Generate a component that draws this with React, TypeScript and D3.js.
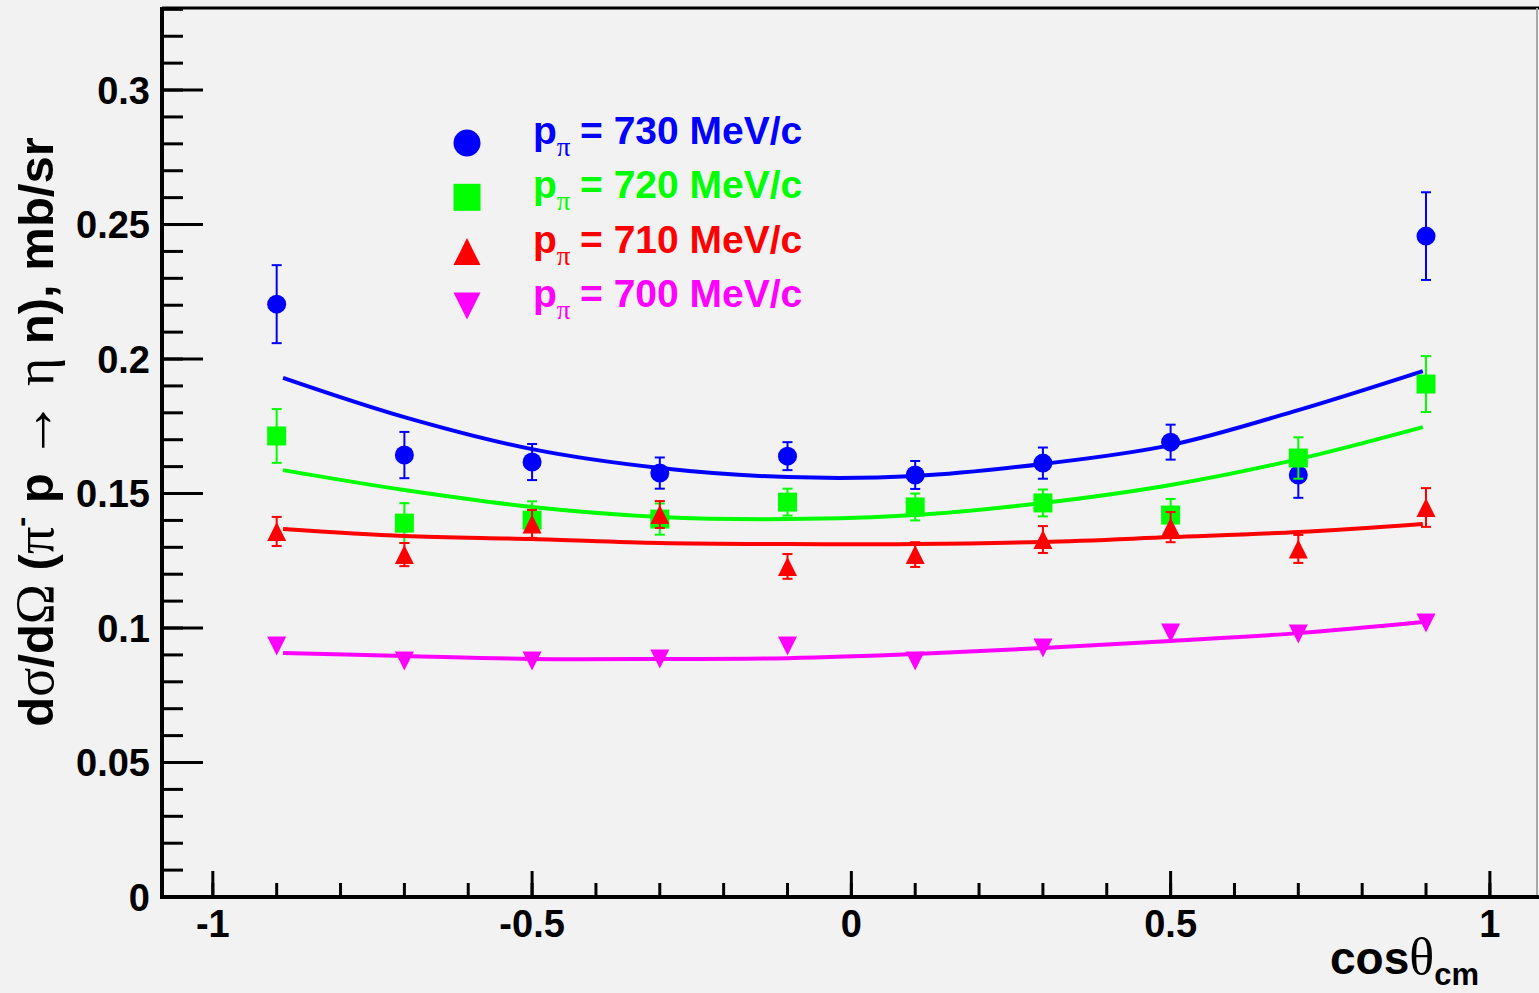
import React from 'react';
import * as d3 from 'd3';

// cos(theta_cm) bin centres
const COS_BINS = [-0.9, -0.7, -0.5, -0.3, -0.1, 0.1, 0.3, 0.5, 0.7, 0.9];

// measured dsigma/dOmega (mb/sr) and errors, one pair per beam momentum
const DS_730 = [0.2204, 0.1643, 0.1617, 0.1576, 0.1639, 0.1569, 0.1613, 0.1691, 0.1569, 0.2457];
const ERR_730 = [0.0145, 0.0086, 0.0067, 0.0058, 0.0052, 0.0052, 0.0058, 0.0065, 0.0085, 0.0163];
const DS_720 = [0.1714, 0.139, 0.1401, 0.1405, 0.1468, 0.145, 0.1465, 0.142, 0.1632, 0.1907];
const ERR_720 = [0.01, 0.0074, 0.007, 0.0058, 0.005, 0.005, 0.005, 0.006, 0.0077, 0.0104];
const DS_710 = [0.1359, 0.1273, 0.1387, 0.1422, 0.1229, 0.1273, 0.1329, 0.1375, 0.1294, 0.1448];
const ERR_710 = [0.0054, 0.0043, 0.0052, 0.005, 0.0046, 0.0046, 0.005, 0.0056, 0.0052, 0.0072];
const DS_700 = [0.0933, 0.0877, 0.0877, 0.0885, 0.0933, 0.0877, 0.0926, 0.0981, 0.0978, 0.1019];
const ERR_700 = [0.0025, 0.0025, 0.0025, 0.0025, 0.0025, 0.0025, 0.0025, 0.0025, 0.0025, 0.0028];

// fit curves
const FIT_X = [-0.89, -0.7, -0.5, -0.3, -0.1, 0.1, 0.3, 0.5, 0.7, 0.895];
const FIT_730 = [0.193, 0.1784, 0.1665, 0.1595, 0.1561, 0.1565, 0.161, 0.168, 0.181, 0.1955];
const FIT_720 = [0.1587, 0.1513, 0.145, 0.1413, 0.1405, 0.142, 0.1465, 0.1532, 0.1628, 0.1747];
const FIT_710 = [0.1368, 0.1342, 0.1331, 0.1316, 0.1312, 0.1312, 0.132, 0.1338, 0.1357, 0.1387];
const FIT_700 = [0.0907, 0.0896, 0.0885, 0.0885, 0.0888, 0.0903, 0.0926, 0.0952, 0.0981, 0.1022];

const MOMENTA = ['730', '720', '710', '700'];
const COLORS = ['#0000ff', '#00ff00', '#ff0000', '#ff00ff'];
const SHAPES = ['circle', 'square', 'tri', 'itri'];

const X_TICKS = [-1, -0.5, 0, 0.5, 1];
const X_TICK_LABELS = ['-1', '-0.5', '0', '0.5', '1'];
const Y_TICKS = [0, 0.05, 0.1, 0.15, 0.2, 0.25, 0.3];
const Y_TICK_LABELS = ['0', '0.05', '0.1', '0.15', '0.2', '0.25', '0.3'];

const W = 1539, H = 993;
const SANS = 'Liberation Sans, Arial, Helvetica, sans-serif';
const SERIF = 'Liberation Serif, DejaVu Serif, serif';

const x = d3.scaleLinear().domain([-1.0796, 1.0738]).range([162, 1537]);
const y = d3.scaleLinear().domain([0, 0.3305]).range([897, 8]);

function Marker({ shape, cx, cy, s, color }) {
  const h = s / 2;
  if (shape === 'circle') return <circle cx={cx} cy={cy} r={h} fill={color} />;
  if (shape === 'square') return <rect x={cx - h} y={cy - h} width={s} height={s} fill={color} />;
  if (shape === 'tri')
    return <path d={`M${cx - h},${cy + h}L${cx + h},${cy + h}L${cx},${cy - h}Z`} fill={color} />;
  return <path d={`M${cx - h},${cy - h}L${cx + h},${cy - h}L${cx},${cy + h}Z`} fill={color} />;
}

export default function App() {
  const series = [
    { ds: DS_730, err: ERR_730, fit: FIT_730 },
    { ds: DS_720, err: ERR_720, fit: FIT_720 },
    { ds: DS_710, err: ERR_710, fit: FIT_710 },
    { ds: DS_700, err: ERR_700, fit: FIT_700 },
  ];
  const line = d3.line<number>()
    .x((_, i) => x(FIT_X[i]))
    .y(d => y(d))
    .curve(d3.curveCatmullRom.alpha(0.5));

  const xMinor = d3.range(-10, 11).map(i => i / 10);
  const yMinor = d3.range(0, 34).map(i => i / 100);
  const ms = 19; // marker size px
  const half = ms / 2;

  return (
    <svg width={W} height={H} style={{ position: 'absolute', left: 0, top: 0 }}>
      <rect width={W} height={H} fill="#f2f2f2" />

      {/* frame */}
      <line x1={162} x2={1539} y1={8} y2={8} stroke="#000" strokeWidth={3} />
      <line x1={1537} x2={1537} y1={8} y2={897} stroke="#a8a8a8" strokeWidth={2} />

      {/* y ticks */}
      {yMinor.map(v => (
        <line key={'ym' + v} x1={162} x2={183} y1={y(v)} y2={y(v)} stroke="#000" strokeWidth={3} />
      ))}
      {Y_TICKS.map((v, i) => (
        <g key={'yt' + v}>
          <line x1={162} x2={203} y1={y(v)} y2={y(v)} stroke="#000" strokeWidth={3} />
          <text x={150} y={y(v)} dy="0.36em" textAnchor="end" fontFamily={SANS} fontWeight="bold" fontSize={38}>
            {Y_TICK_LABELS[i]}
          </text>
        </g>
      ))}

      {/* x ticks */}
      {xMinor.map(v => (
        <line key={'xm' + v} x1={x(v)} x2={x(v)} y1={897} y2={883} stroke="#000" strokeWidth={3} />
      ))}
      {X_TICKS.map((v, i) => (
        <g key={'xt' + v}>
          <line x1={x(v)} x2={x(v)} y1={897} y2={871} stroke="#000" strokeWidth={3} />
          <text x={x(v)} y={937} textAnchor="middle" fontFamily={SANS} fontWeight="bold" fontSize={38}>
            {X_TICK_LABELS[i]}
          </text>
        </g>
      ))}

      {/* axes */}
      <line x1={162} x2={162} y1={7} y2={898.5} stroke="#000" strokeWidth={4} />
      <line x1={160} x2={1539} y1={897} y2={897} stroke="#000" strokeWidth={4} />

      {/* data + fits */}
      {series.map((s, si) => (
        <g key={'s' + si}>
          {s.ds.map((v, i) => {
            const cx = x(COS_BINS[i]);
            const cy = y(v);
            const e = y(v - s.err[i]) - cy;
            if (e <= half) return null;
            return (
              <g key={'e' + i} stroke={COLORS[si]} strokeWidth={2}>
                <line x1={cx} x2={cx} y1={cy - e} y2={cy + e} />
                <line x1={cx - 5} x2={cx + 5} y1={cy - e} y2={cy - e} />
                <line x1={cx - 5} x2={cx + 5} y1={cy + e} y2={cy + e} />
              </g>
            );
          })}
          {s.ds.map((v, i) => (
            <Marker key={'m' + i} shape={SHAPES[si]} cx={x(COS_BINS[i])} cy={y(v)} s={ms} color={COLORS[si]} />
          ))}
          <path d={line(s.fit) || ''} fill="none" stroke={COLORS[si]} strokeWidth={4} />
        </g>
      ))}

      {/* legend */}
      {MOMENTA.map((p, i) => {
        const cy = 143 + i * 54.3;
        return (
          <g key={'lg' + p}>
            <Marker shape={SHAPES[i]} cx={467} cy={cy} s={27} color={COLORS[i]} />
            <text x={533} y={cy + 1} fontFamily={SANS} fontWeight="bold" fontSize={39} fill={COLORS[i]}>
              p
              <tspan fontFamily={SERIF} fontWeight="normal" fontSize={27} dy={12}>π</tspan>
              <tspan x={580} dy={-12}>= {p} MeV/c</tspan>
            </text>
          </g>
        );
      })}

      {/* x title */}
      <text x={1479} y={974} textAnchor="end" fontFamily={SANS} fontWeight="bold" fontSize={46}>
        cos
        <tspan fontFamily={SERIF} fontWeight="normal" fontSize={52}>θ</tspan>
        <tspan fontSize={31} dy={11}>cm</tspan>
      </text>

      {/* y title */}
      <text transform="translate(53,432) rotate(-90)" textAnchor="middle" fontFamily={SANS} fontWeight="bold" fontSize={49}>
        d
        <tspan fontFamily={SERIF} fontWeight="normal" fontSize={54}>σ</tspan>
        /d
        <tspan fontFamily={SERIF} fontWeight="normal" fontSize={54}>Ω</tspan>
        {' ('}
        <tspan fontFamily={SERIF} fontWeight="normal" fontSize={54}>π</tspan>
        <tspan fontSize={30} dy={-22}>-</tspan>
        <tspan dy={22}>{' p '}</tspan>
        <tspan fontFamily={SERIF} fontWeight="normal" fontSize={60}>→</tspan>
        {' '}
        <tspan fontFamily={SERIF} fontWeight="normal" fontSize={54}>η</tspan>
        {' n), mb/sr'}
      </text>
    </svg>
  );
}
